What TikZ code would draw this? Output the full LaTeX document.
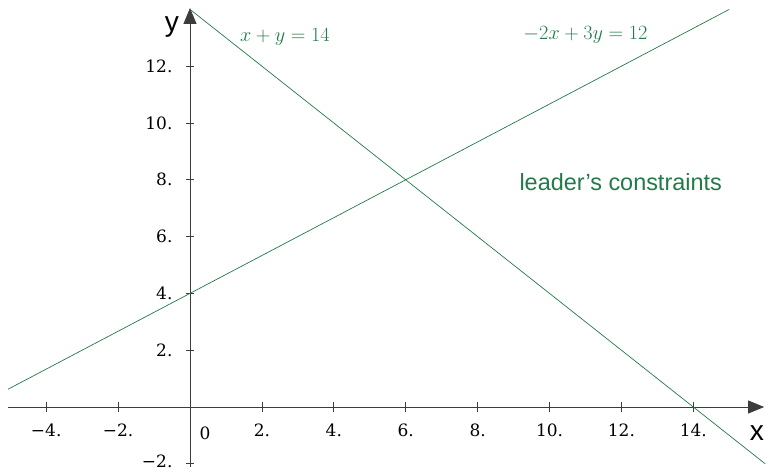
\documentclass[tikz,border=0pt]{standalone}
\usepackage{fontspec}
\setsansfont{Liberation Sans}
\newfontfamily\tickfont{DejaVu Serif}
\usepackage{xcolor}
\usetikzlibrary{arrows.meta}
\definecolor{leadgreen}{RGB}{34,122,72}
\definecolor{axisgray}{RGB}{60,60,60}
\tikzset{
  axis/.style={draw=axisgray, line width=0.7pt, -{Triangle[length=0.48cm, width=0.39cm]}},
  constraint/.style={draw=leadgreen, line width=0.6pt},
  ticklabel/.style={font=\tickfont\fontsize{14.5}{17}\selectfont, inner sep=0pt},
  axislabel/.style={font=\sffamily\fontsize{24}{26}\selectfont, inner sep=0pt},
  eqlabel/.style={text=leadgreen, font=\fontsize{16}{19}\selectfont},
}
\begin{document}
\begin{tikzpicture}[x=1.0785cm, y=0.852cm]
  \useasboundingbox (-5.285,-2.289) rectangle (16.022,14.331);
  % Axes
  \coordinate (xstart) at (-5.06,0);
  \coordinate (xend) at (15.97,0);
  \coordinate (ystart) at (0,-2.1);
  \coordinate (yend) at (0,14.05);
  \draw[axis] (xstart) -- (xend);
  \draw[axis] (ystart) -- (yend);
  \node[axislabel] (xlabel) at (15.77,-0.92) {x};
  \node[axislabel] (ylabel) at (-0.5,13.38) {y};
  % Ticks
  \foreach \x/\t in {-4/−4, -2/−2, 2/2, 4/4, 6/6, 8/8, 10/10, 12/12, 14/14} {
    \draw[axisgray, line width=0.6pt] (\x,0) ++(0,-4.3pt) -- ++(0,8.6pt);
    \node[ticklabel] (xt\x) at ([yshift=-0.69cm]\x,0) {\t.};
  }
  \foreach \y/\t in {2/2, 4/4, 6/6, 8/8, 10/10, 12/12} {
    \draw[axisgray, line width=0.6pt] (0,\y) ++(-3.4pt,0) -- ++(6.8pt,0);
    \node[ticklabel, anchor=east] (yt\y) at ([xshift=-0.52cm]0,\y) {\t.};
  }
  \draw[axisgray, line width=0.6pt] (0,-2) ++(-3.4pt,0) -- ++(6.8pt,0);
  \node[ticklabel, anchor=east] (ytm2) at ([xshift=-0.52cm, yshift=0.06cm]0,-2) {−2.};
  \node[ticklabel] (orig) at (0.42,-0.92) {0};
  % Constraints
  \coordinate (ca) at (0,14);
  \coordinate (cb) at (16,-2);
  \coordinate (cc) at (-5.06,0.627);
  \coordinate (cd) at (15,14);
  \draw[constraint] (ca) -- (cb);
  \draw[constraint] (cc) -- (cd);
  \node[eqlabel] (eqone) at (2.64,13.03) {$x+y=14$};
  \node[eqlabel] (eqtwo) at (11.0,13.1) {$-2x+3y=12$};
  \node[text=leadgreen, font=\sffamily\fontsize{20}{24}\selectfont] (leader) at (11.98,7.92) {leader’s constraints};
\end{tikzpicture}
\end{document}
